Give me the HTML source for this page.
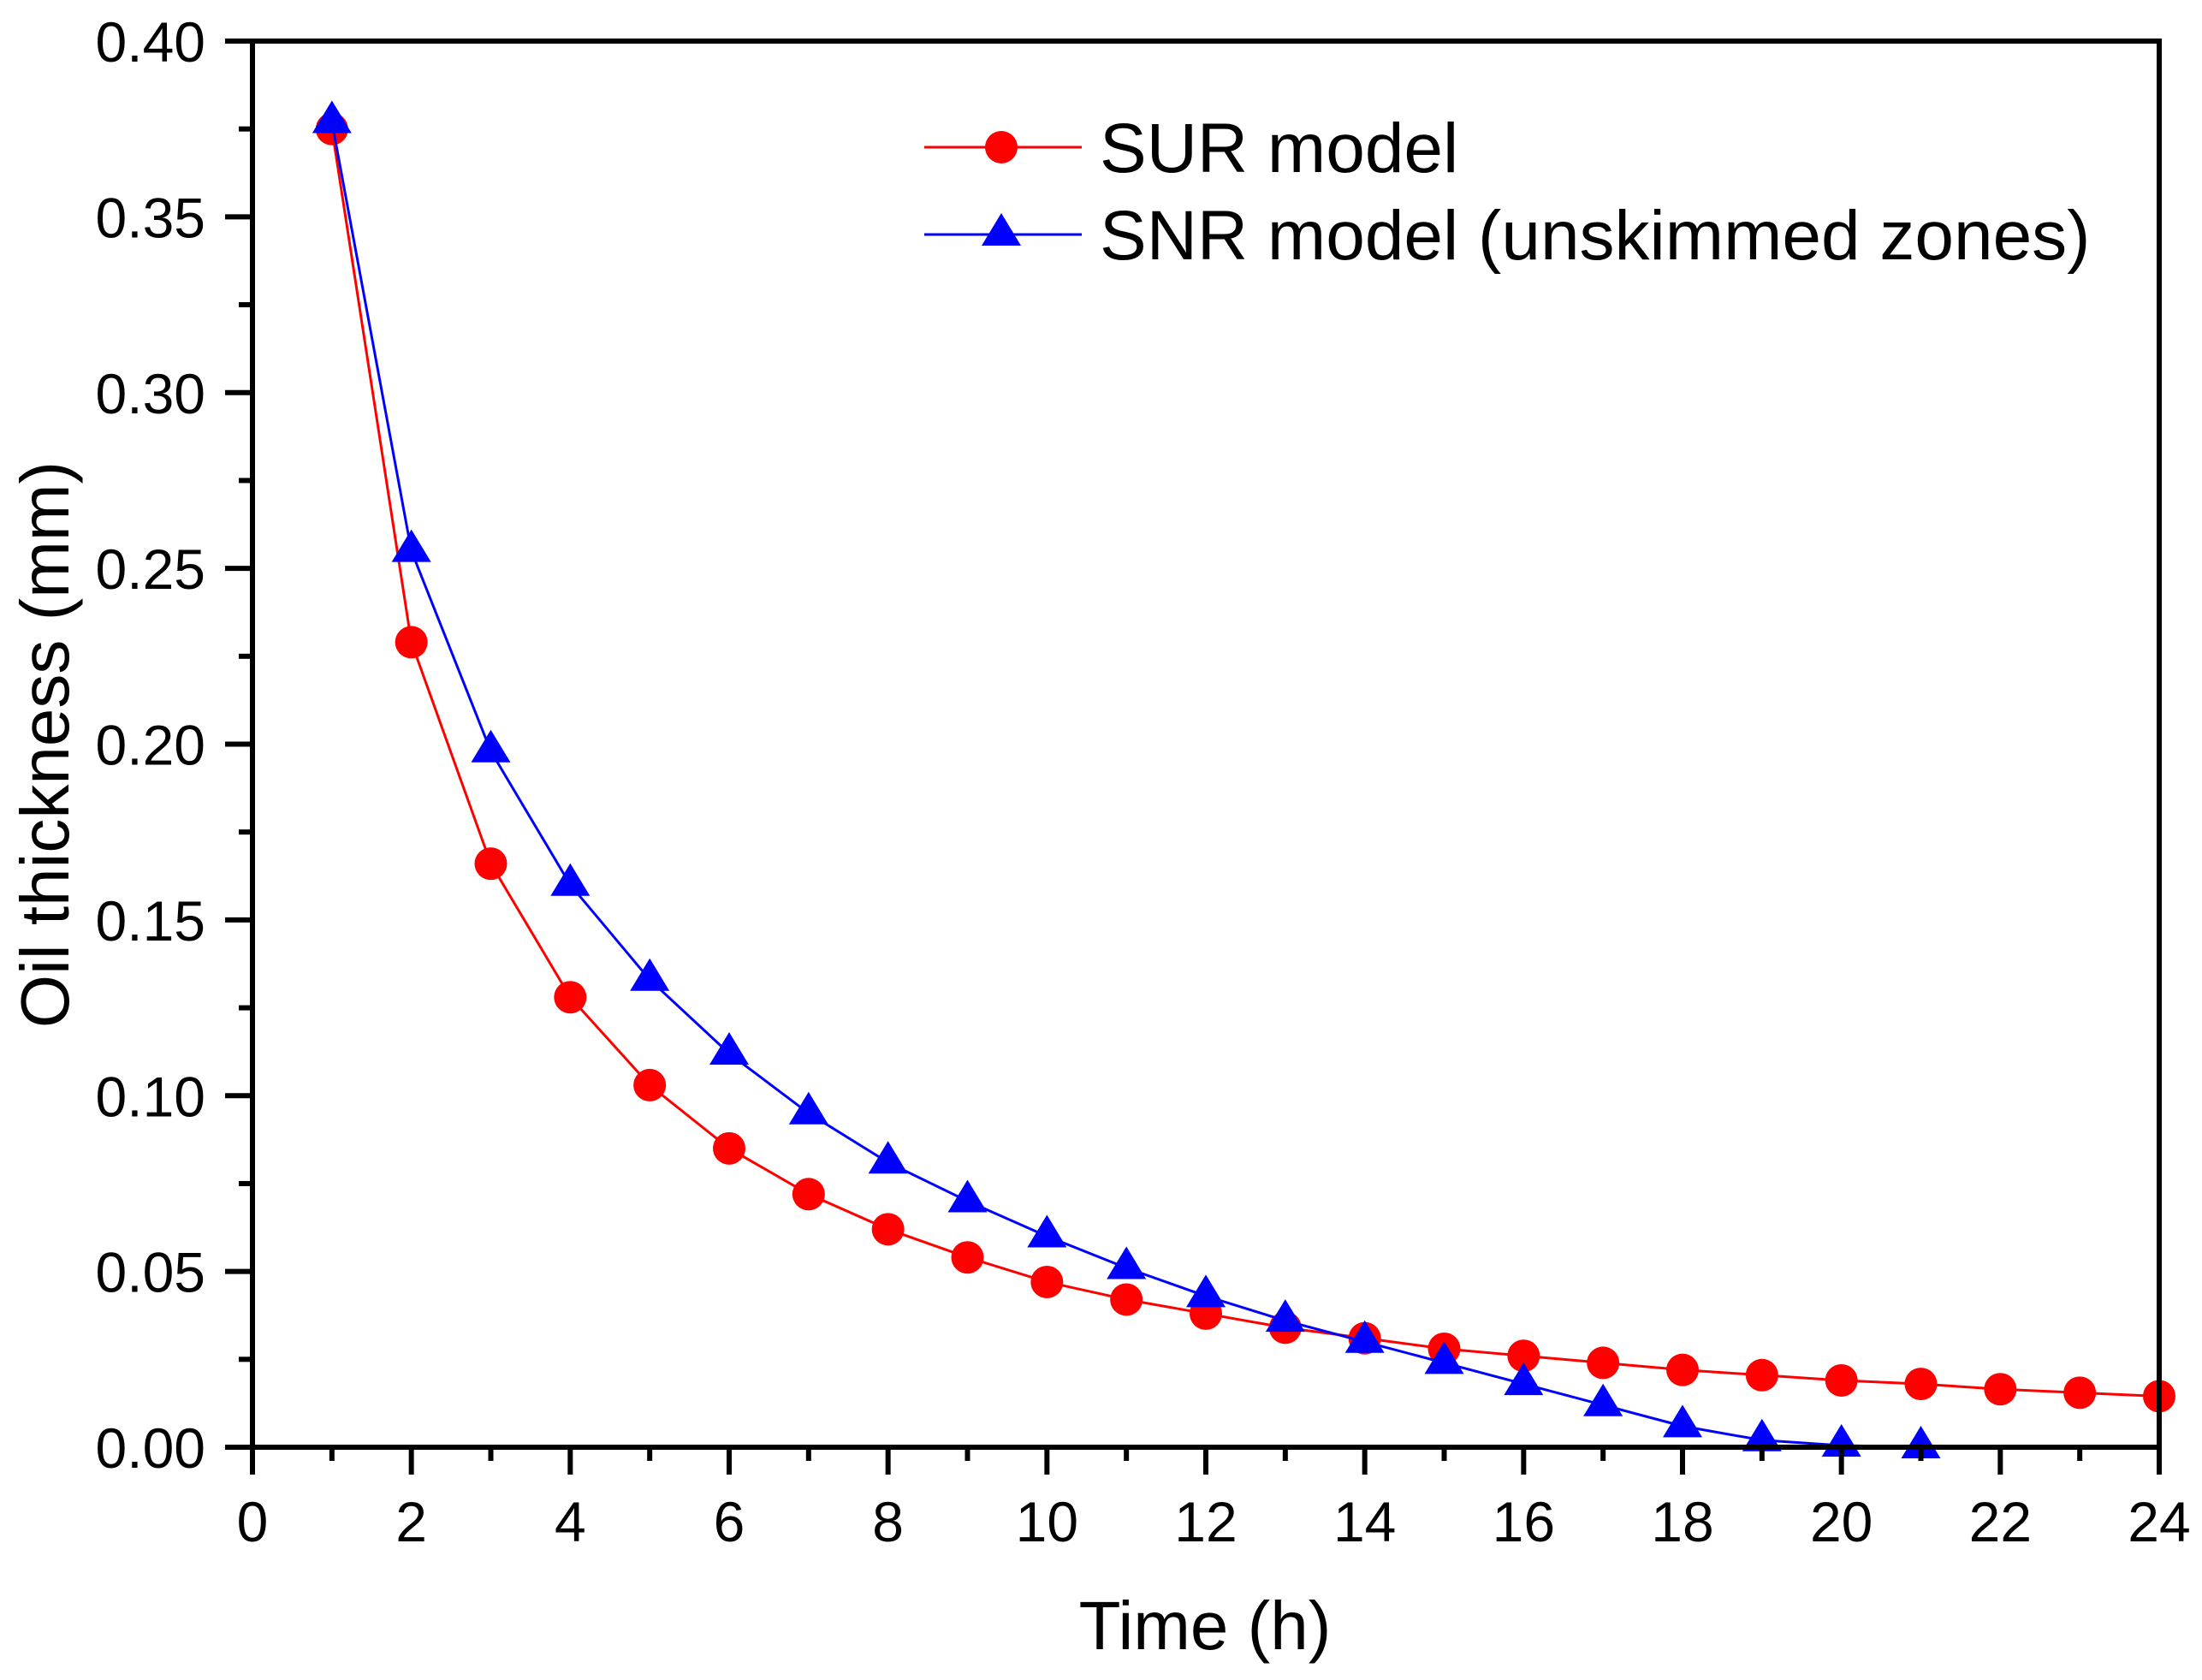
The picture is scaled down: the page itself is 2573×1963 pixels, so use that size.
<!DOCTYPE html>
<html><head><meta charset="utf-8"><style>body{margin:0;background:#fff}svg{display:block}text{font-family:"Liberation Sans",sans-serif}</style></head>
<body>
<svg id="chart" width="2573" height="1963" viewBox="0 0 2573 1963"></svg>
<script>
const xTicks=[0,2,4,6,8,10,12,14,16,18,20,22,24];
const yTicks=[0,0.05,0.10,0.15,0.20,0.25,0.30,0.35,0.40];
const yTickLabels=["0.00","0.05","0.10","0.15","0.20","0.25","0.30","0.35","0.40"];
const surTimes=[1,2,3,4,5,6,7,8,9,10,11,12,13,14,15,16,17,18,19,20,21,22,23,24];
const surValues=[0.375,0.229,0.166,0.128,0.103,0.085,0.072,0.062,0.054,0.047,0.042,0.038,0.034,0.031,0.028,0.026,0.024,0.022,0.0205,0.019,0.018,0.0165,0.0155,0.0145];
const snrTimes=[1,2,3,4,5,6,7,8,9,10,11,12,13,14,15,16,17,18,19,20,21];
const snrValues=[0.377,0.255,0.198,0.160,0.133,0.112,0.095,0.081,0.070,0.060,0.051,0.043,0.036,0.030,0.024,0.018,0.012,0.006,0.002,0.0005,0];
const L=295,R=2523,T=48,B=1691;
const xs=v=>L+(v/24)*(R-L), ys=v=>B-(v/0.4)*(B-T);
const svg=document.getElementById('chart');const NS='http://www.w3.org/2000/svg';
function mk(tag,attrs,parent){const e=document.createElementNS(NS,tag);for(const k in attrs)e.setAttribute(k,attrs[k]);(parent||svg).appendChild(e);return e;}
function series(times,vals,color,marker,name){
 const g=mk('g',{});
 
 
 const pl=mk('polyline',{points:times.map((t,i)=>xs(t)+','+ys(vals[i])).join(' '),fill:'none',stroke:color,'stroke-width':3},g);
 
 
 times.forEach((t,i)=>{const x=xs(t),y=ys(vals[i]);let m;
  if(marker==='c'){m=mk('circle',{cx:x,cy:y,r:19,fill:color},g);}
  else{m=mk('polygon',{points:`${x},${y-25} ${x-23},${y+13} ${x+23},${y+13}`,fill:color},g);}
  
  });
}
series(surTimes,surValues,'#ff0000','c','sur');
series(snrTimes,snrValues,'#0000ff','t','snr');
const fr=mk('rect',{x:L,y:T,width:R-L,height:B-T,fill:'none',stroke:'#000','stroke-width':6});


for(let v=0;v<=24;v+=1){const major=v%2===0;mk('line',{x1:xs(v),x2:xs(v),y1:B,y2:B+(major?32:16),stroke:'#000','stroke-width':6});}
xTicks.forEach(v=>{const t=mk('text',{x:xs(v),y:1801,'font-size':66,'text-anchor':'middle'});t.textContent=v;
 
 });
for(let i=0;i<=16;i++){const v=i*0.025;const major=i%2===0;mk('line',{x1:L,x2:L-(major?32:16),y1:ys(v),y2:ys(v),stroke:'#000','stroke-width':6});}
yTicks.forEach((v,i)=>{const t=mk('text',{x:240,y:ys(v)+24,'font-size':66,'text-anchor':'end'});t.textContent=yTickLabels[i];
 
 });
</script>
<svg style="position:absolute;left:0;top:0" width="2573" height="1963">
<text x="1408" y="1927" font-size="80" text-anchor="middle" font-family="Liberation Sans, sans-serif">Time (h)</text>
<text transform="translate(80,870) rotate(-90)" font-size="80" text-anchor="middle" font-family="Liberation Sans, sans-serif">Oil thickness (mm)</text>
<g font-family="Liberation Sans, sans-serif" font-size="82">
<line x1="1080" x2="1264" y1="172" y2="172" stroke="#ff0000" stroke-width="3"/>
<circle cx="1170" cy="172" r="19" fill="#ff0000"/>
<text x="1285" y="201">SUR model</text>
<line x1="1080" x2="1264" y1="274" y2="274" stroke="#0000ff" stroke-width="3"/>
<polygon points="1170,249 1147,287 1193,287" fill="#0000ff"/>
<text x="1285" y="303">SNR model (unskimmed zones)</text>
</g>
</svg>
</body></html>
